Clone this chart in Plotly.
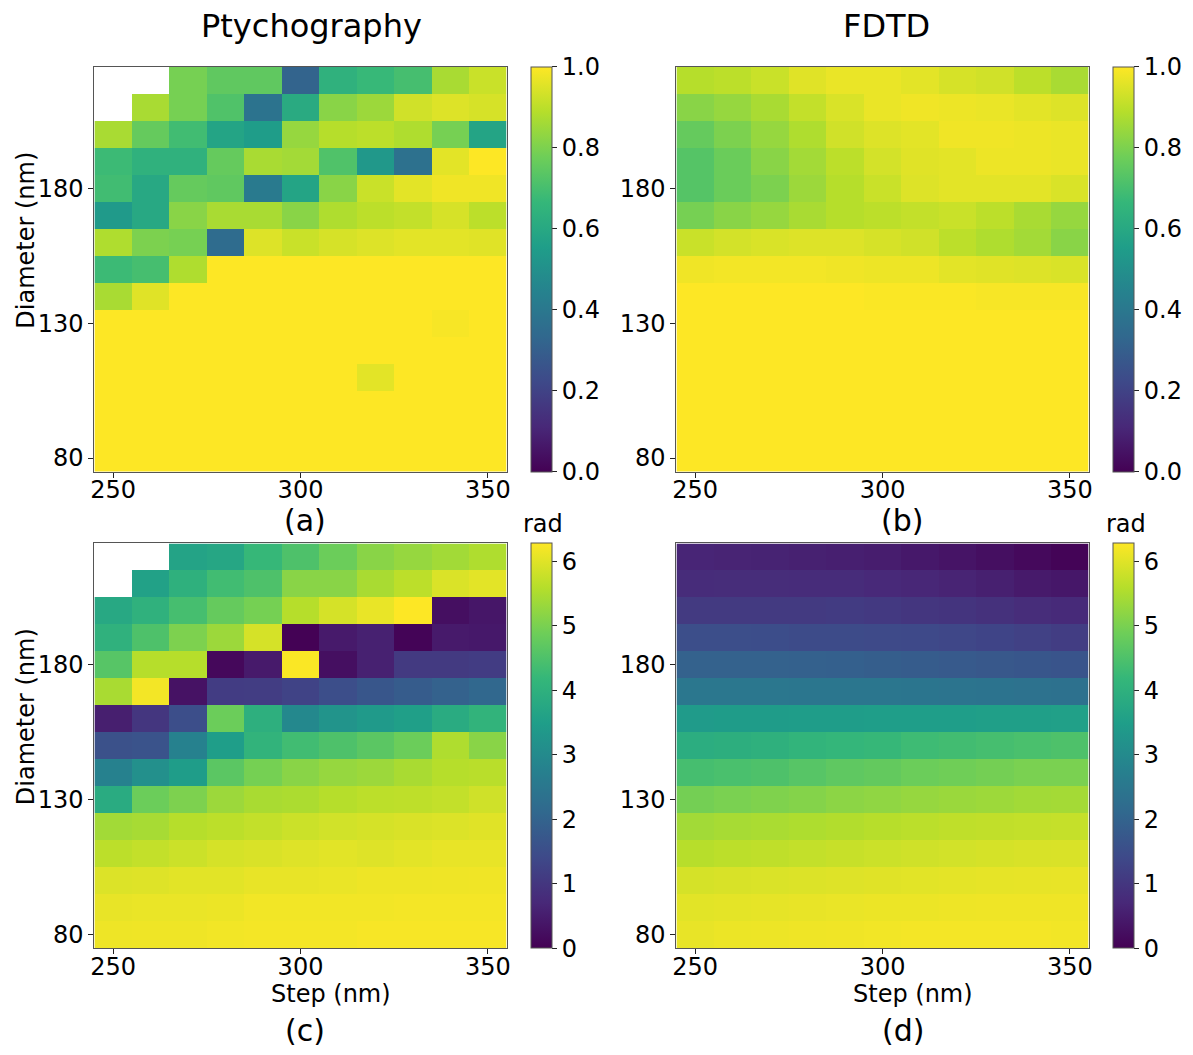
import plotly.graph_objects as go

# The page body has an 8 px margin: size the figure so it fits the window,
# and convert reference-pixel positions with that offset.
OFF = 8
W, H = 1193 - 2 * OFF, 1055 - 2 * OFF

# ---------------- data ----------------
STEPS = [250, 260, 270, 280, 290, 300, 310, 320, 330, 340, 350]
DIAMETERS = [220, 210, 200, 190, 180, 170, 160, 150, 140, 130, 120, 110, 100, 90, 80]  # top -> bottom

X_TICKS = [250, 300, 350]
Y_TICKS = [80, 130, 180]
AMP_TICKS = [0.0, 0.2, 0.4, 0.6, 0.8, 1.0]
PHASE_TICKS = [0, 1, 2, 3, 4, 5, 6]
PHASE_MAX = 6.283

# (a) Ptychography amplitude
AMP_PTY = [
    [None, None, 0.79, 0.75, 0.75, 0.32, 0.64, 0.67, 0.70, 0.87, 0.92],
    [None, 0.87, 0.79, 0.72, 0.38, 0.61, 0.82, 0.85, 0.93, 0.95, 0.94],
    [0.87, 0.76, 0.69, 0.58, 0.55, 0.84, 0.89, 0.90, 0.88, 0.79, 0.58],
    [0.68, 0.64, 0.64, 0.76, 0.87, 0.86, 0.72, 0.53, 0.37, 0.96, 1.00],
    [0.69, 0.60, 0.76, 0.75, 0.41, 0.58, 0.82, 0.92, 0.96, 0.98, 0.98],
    [0.54, 0.60, 0.82, 0.87, 0.87, 0.82, 0.88, 0.90, 0.91, 0.94, 0.90],
    [0.88, 0.80, 0.79, 0.35, 0.95, 0.92, 0.94, 0.95, 0.96, 0.96, 0.955],
    [0.68, 0.70, 0.88, 1.00, 1.00, 1.00, 1.00, 1.00, 1.00, 1.00, 1.00],
    [0.87, 0.955, 1.00, 1.00, 1.00, 1.00, 1.00, 1.00, 1.00, 1.00, 1.00],
    [1.00, 1.00, 1.00, 1.00, 1.00, 1.00, 1.00, 1.00, 1.00, 0.99, 1.00],
    [1.00, 1.00, 1.00, 1.00, 1.00, 1.00, 1.00, 1.00, 1.00, 1.00, 1.00],
    [1.00, 1.00, 1.00, 1.00, 1.00, 1.00, 1.00, 0.96, 1.00, 1.00, 1.00],
    [1.00, 1.00, 1.00, 1.00, 1.00, 1.00, 1.00, 1.00, 1.00, 1.00, 1.00],
    [1.00, 1.00, 1.00, 1.00, 1.00, 1.00, 1.00, 1.00, 1.00, 1.00, 1.00],
    [1.00, 1.00, 1.00, 1.00, 1.00, 1.00, 1.00, 1.00, 1.00, 1.00, 1.00],
]

# (b) FDTD amplitude
AMP_FDTD = [
    [0.89, 0.90, 0.92, 0.955, 0.97, 0.97, 0.96, 0.94, 0.93, 0.90, 0.87],
    [0.82, 0.84, 0.87, 0.91, 0.945, 0.97, 0.98, 0.975, 0.97, 0.96, 0.95],
    [0.76, 0.80, 0.84, 0.88, 0.93, 0.95, 0.96, 0.98, 0.98, 0.975, 0.97],
    [0.73, 0.77, 0.82, 0.86, 0.90, 0.935, 0.955, 0.96, 0.975, 0.975, 0.97],
    [0.73, 0.77, 0.80, 0.85, 0.89, 0.92, 0.95, 0.96, 0.96, 0.96, 0.945],
    [0.79, 0.82, 0.84, 0.87, 0.89, 0.90, 0.91, 0.92, 0.90, 0.87, 0.84],
    [0.92, 0.935, 0.945, 0.95, 0.95, 0.94, 0.93, 0.90, 0.88, 0.86, 0.82],
    [0.98, 0.985, 0.985, 0.985, 0.98, 0.975, 0.975, 0.96, 0.955, 0.95, 0.945],
    [1.00, 1.00, 1.00, 1.00, 1.00, 0.995, 0.995, 0.995, 0.99, 0.99, 0.99],
    [1.00, 1.00, 1.00, 1.00, 1.00, 1.00, 1.00, 1.00, 1.00, 1.00, 1.00],
    [1.00, 1.00, 1.00, 1.00, 1.00, 1.00, 1.00, 1.00, 1.00, 1.00, 1.00],
    [1.00, 1.00, 1.00, 1.00, 1.00, 1.00, 1.00, 1.00, 1.00, 1.00, 1.00],
    [1.00, 1.00, 1.00, 1.00, 1.00, 1.00, 1.00, 1.00, 1.00, 1.00, 1.00],
    [1.00, 1.00, 1.00, 1.00, 1.00, 1.00, 1.00, 1.00, 1.00, 1.00, 1.00],
    [1.00, 1.00, 1.00, 1.00, 1.00, 1.00, 1.00, 1.00, 1.00, 1.00, 1.00],
]

# (c) Ptychography phase (rad)
PHASE_PTY = [
    [None, None, 3.64, 3.70, 4.20, 4.50, 4.85, 5.15, 5.28, 5.40, 5.53],
    [None, 3.58, 4.00, 4.33, 4.50, 5.15, 5.15, 5.47, 5.65, 5.94, 6.03],
    [3.77, 4.02, 4.40, 4.78, 4.96, 5.59, 5.90, 6.09, 6.28, 0.25, 0.38],
    [4.02, 4.50, 5.03, 5.34, 5.90, 0.02, 0.44, 0.57, 0.06, 0.44, 0.42],
    [4.60, 5.59, 5.59, 0.13, 0.44, 6.25, 0.25, 0.57, 1.07, 1.07, 1.13],
    [5.47, 6.19, 0.31, 1.13, 1.15, 1.26, 1.50, 1.70, 1.82, 1.95, 2.10],
    [0.53, 1.00, 1.50, 4.85, 3.96, 2.95, 3.24, 3.38, 3.52, 3.84, 4.08],
    [1.57, 1.63, 2.77, 3.49, 4.08, 4.33, 4.50, 4.65, 4.85, 5.53, 5.15],
    [2.77, 3.14, 3.46, 4.65, 4.96, 5.15, 5.28, 5.34, 5.47, 5.59, 5.62],
    [3.84, 4.85, 5.03, 5.34, 5.47, 5.50, 5.59, 5.65, 5.67, 5.72, 5.84],
    [5.40, 5.45, 5.59, 5.65, 5.72, 5.80, 5.86, 5.90, 5.93, 5.96, 6.00],
    [5.65, 5.72, 5.80, 5.90, 5.93, 5.98, 6.02, 5.98, 6.03, 6.08, 6.08],
    [5.96, 5.98, 6.02, 6.02, 6.08, 6.08, 6.10, 6.14, 6.14, 6.15, 6.16],
    [6.08, 6.10, 6.10, 6.12, 6.18, 6.18, 6.18, 6.18, 6.20, 6.20, 6.20],
    [6.14, 6.15, 6.15, 6.18, 6.20, 6.20, 6.20, 6.22, 6.22, 6.22, 6.22],
]

# (d) FDTD phase (rad)
PHASE_FDTD = [
    [0.65, 0.62, 0.60, 0.57, 0.54, 0.50, 0.42, 0.34, 0.25, 0.15, 0.05],
    [0.78, 0.80, 0.80, 0.78, 0.78, 0.72, 0.68, 0.62, 0.55, 0.45, 0.40],
    [1.07, 1.08, 1.08, 1.08, 1.10, 1.06, 1.00, 0.95, 0.88, 0.80, 0.74],
    [1.50, 1.50, 1.48, 1.45, 1.44, 1.42, 1.40, 1.35, 1.30, 1.22, 1.15],
    [1.95, 1.95, 1.95, 1.93, 1.92, 1.88, 1.83, 1.78, 1.74, 1.70, 1.65],
    [2.50, 2.50, 2.50, 2.48, 2.48, 2.47, 2.45, 2.42, 2.40, 2.35, 2.33],
    [3.42, 3.45, 3.45, 3.46, 3.47, 3.48, 3.50, 3.50, 3.52, 3.53, 3.55],
    [3.90, 3.95, 4.00, 4.10, 4.15, 4.20, 4.30, 4.35, 4.40, 4.45, 4.50],
    [4.40, 4.45, 4.50, 4.60, 4.70, 4.75, 4.85, 4.90, 4.95, 5.00, 5.00],
    [4.95, 5.00, 5.05, 5.10, 5.18, 5.22, 5.28, 5.32, 5.35, 5.40, 5.42],
    [5.40, 5.45, 5.48, 5.52, 5.56, 5.60, 5.64, 5.68, 5.70, 5.72, 5.74],
    [5.60, 5.65, 5.68, 5.72, 5.76, 5.80, 5.84, 5.87, 5.90, 5.92, 5.93],
    [5.90, 5.92, 5.94, 5.96, 5.98, 6.00, 6.02, 6.04, 6.06, 6.07, 6.08],
    [6.02, 6.04, 6.06, 6.08, 6.10, 6.12, 6.12, 6.14, 6.15, 6.15, 6.15],
    [6.08, 6.12, 6.13, 6.15, 6.16, 6.18, 6.20, 6.20, 6.20, 6.20, 6.18],
]

# ---------------- layout helpers (reference pixel -> paper) ----------------
def px(x):
    return (x - OFF) / W

def py(y):
    return 1 - (y - OFF) / H

FONT = "DejaVu Sans"
PANEL_L = (91, 506)
PANEL_R = (677, 1092)
PANEL_T = (67, 472)
PANEL_B = (544, 949)
CB_L = 531
CB_R = 1117


def cbar(xpix, ypanel, tickvals, fmt):
    return dict(
        x=px(xpix), xanchor="left",
        y=py((ypanel[0] + ypanel[1]) / 2), yanchor="middle",
        len=ypanel[1] - ypanel[0], lenmode="pixels",
        thickness=21, thicknessmode="pixels",
        xpad=0, ypad=0,
        outlinewidth=1, outlinecolor="#555555",
        ticks="outside", ticklen=5, tickcolor="#222222",
        tickvals=tickvals, tickformat=fmt,
        tickfont=dict(family=FONT, size=24, color="black"),
    )


fig = go.Figure()

panels = [
    (AMP_PTY, 0, 1, cbar(CB_L, PANEL_T, AMP_TICKS, ".1f"), "x", "y"),
    (AMP_FDTD, 0, 1, cbar(CB_R, PANEL_T, AMP_TICKS, ".1f"), "x2", "y2"),
    (PHASE_PTY, 0, PHASE_MAX, cbar(CB_L, PANEL_B, PHASE_TICKS, "d"), "x3", "y3"),
    (PHASE_FDTD, 0, PHASE_MAX, cbar(CB_R, PANEL_B, PHASE_TICKS, "d"), "x4", "y4"),
]

for z, zmin, zmax, cb, xa, ya in panels:
    fig.add_trace(go.Heatmap(
        x=STEPS, y=DIAMETERS, z=z,
        zmin=zmin, zmax=zmax,
        colorscale="Viridis",
        colorbar=cb,
        xaxis=xa, yaxis=ya,
        hoverongaps=False,
    ))

axis_common = dict(
    showline=True, mirror=True, linecolor="#555555", linewidth=1,
    ticks="outside", ticklen=5, tickcolor="#222222",
    tickfont=dict(family=FONT, size=24, color="black"),
    showgrid=False, zeroline=False,
)

layout = dict(
    width=W, height=H,
    margin=dict(l=0, r=0, t=0, b=0),
    paper_bgcolor="white", plot_bgcolor="white",
    font=dict(family=FONT, size=24, color="black"),
)

xdoms = [PANEL_L, PANEL_R, PANEL_L, PANEL_R]
ydoms = [PANEL_T, PANEL_T, PANEL_B, PANEL_B]
for i in range(4):
    sfx = "" if i == 0 else str(i + 1)
    layout["xaxis" + sfx] = dict(
        axis_common,
        domain=[px(xdoms[i][0]), px(xdoms[i][1])],
        range=[245, 355], tickvals=X_TICKS,
        ticklabelstandoff=-8,
        anchor="y" + sfx,
    )
    layout["yaxis" + sfx] = dict(
        axis_common,
        domain=[py(ydoms[i][1]), py(ydoms[i][0])],
        range=[75, 225], tickvals=Y_TICKS,
        anchor="x" + sfx,
    )

fig.update_layout(**layout)


def ann(text, x, y, size, angle=0):
    fig.add_annotation(
        text=text, x=px(x), y=py(y), xref="paper", yref="paper",
        xanchor="center", yanchor="middle", showarrow=False,
        textangle=angle, font=dict(family=FONT, size=size, color="black"),
    )


ann("Ptychography", 310, 26, 32)
ann("FDTD", 888, 26, 32)
ann("(a)", 303, 521, 30)
ann("(b)", 904, 521, 30)
ann("(c)", 303, 1031, 30)
ann("(d)", 905, 1031, 30)
ann("Step (nm)", 329, 995, 24)
ann("Step (nm)", 915, 995, 24)
ann("Diameter (nm)", 22, 240, 24, -90)
ann("Diameter (nm)", 22, 717, 24, -90)
ann("rad", 543, 524, 24)
ann("rad", 1130, 524, 24)

fig.write_html("out.html")
